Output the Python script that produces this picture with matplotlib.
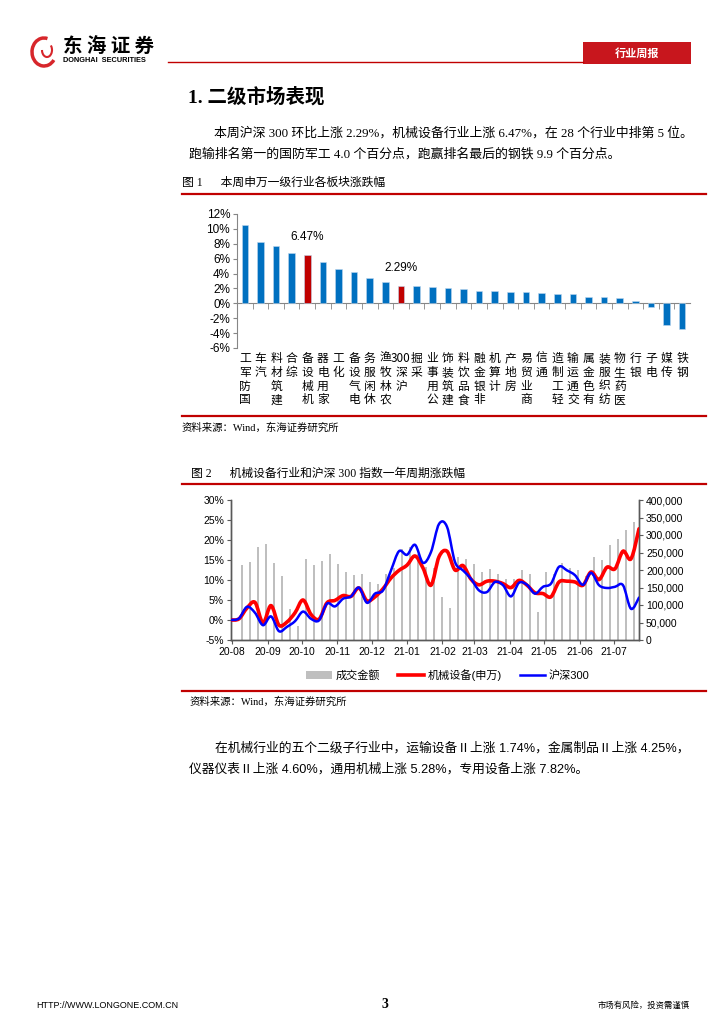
import numpy as np
import pandas as pd
import matplotlib
matplotlib.use("Agg")
import matplotlib.pyplot as plt
import matplotlib.dates as mdates
import matplotlib.transforms as mtrans
from matplotlib.path import Path
from matplotlib.patches import PathPatch, Rectangle, Arc
from matplotlib.lines import Line2D
from matplotlib.ticker import FuncFormatter, MultipleLocator

CJK = "Noto Sans CJK SC"
SANS = ["Liberation Sans", CJK]
SERIF = ["Liberation Serif", CJK]
plt.rcParams["font.family"] = SANS

# ---- figure 1: weekly change of SW level-1 industries (%) ----
industries = ["国防军工", "汽车", "建筑材料", "综合", "机械设备", "家用电器", "化工",
              "电气设备", "休闲服务", "农林牧渔", "沪深300", "采掘", "公用事业", "建筑装饰",
              "食品饮料", "非银金融", "计算机", "房地产", "商业贸易", "通信", "轻工制造",
              "交通运输", "有色金属", "纺织服装", "医药生物", "银行", "电子", "传媒", "钢铁"]
weekly_chg = [10.47, 8.18, 7.68, 6.71, 6.47, 5.56, 4.64, 4.18, 3.40, 2.90, 2.29, 2.27,
              2.16, 2.02, 1.88, 1.66, 1.61, 1.52, 1.52, 1.43, 1.29, 1.24, 0.87, 0.87,
              0.78, 0.28, -0.55, -2.85, -3.43]
highlight = {"机械设备": "6.47%", "沪深300": "2.29%"}

# ---- figure 2: one-year weekly cumulative change (%) and turnover ----
week_dates = pd.date_range("2020-07-31", periods=52, freq="7D")
machinery = [0.0, 0.3, 3.0, 4.4, -0.7, 3.6, -1.3, -0.5, 1.8, 5.0, 1.4, 0.2, 4.3, 4.9,
             6.1, 5.9, 8.0, 4.8, 5.8, 7.8, 10.5, 12.4, 13.7, 16.0, 13.0, 8.7, 15.8, 17.2,
             12.5, 13.6, 10.2, 8.8, 9.7, 9.7, 9.1, 8.1, 9.9, 8.7, 6.8, 6.6, 5.8, 9.5,
             9.7, 9.5, 8.7, 12.0, 10.1, 13.2, 12.8, 17.2, 15.3, 22.8]
hs300 = [0.0, 0.4, 3.3, 1.8, -1.3, 0.9, -2.8, -1.7, -0.3, 2.1, 0.3, -0.1, 4.1, 3.4,
         5.3, 5.9, 8.1, 4.3, 6.6, 7.4, 12.4, 17.2, 16.3, 18.8, 14.3, 17.0, 24.0, 23.3,
         14.5, 12.4, 10.3, 7.4, 7.0, 9.5, 8.7, 5.9, 9.3, 8.8, 6.6, 8.3, 9.1, 13.3,
         12.4, 11.2, 8.8, 11.8, 8.7, 8.0, 8.3, 8.7, 2.8, 5.6]
turnover = [215, 223, 265, 274, 221, 184, 88, 41, 232, 213, 225, 246, 217, 193, 187,
            188, 167, 160, 188, 205, 260, 266, 245, 208, 205, 122, 92, 238, 231, 217,
            193, 203, 190, 175, 175, 200, 190, 79, 193, 188, 221, 206, 200, 182, 236,
            228, 271, 288, 314, 336]  # thousands

W, H = 724, 1024


def fx(x):
    return x / W


def fy(y):
    return 1 - y / H


def box(left, top, right, bottom):
    return [fx(left), fy(bottom), (right - left) / W, (bottom - top) / H]


def smooth_path(x, y):
    # Catmull-Rom style bezier through the points (like Excel smoothed lines)
    x = np.asarray(x, float)
    y = np.asarray(y, float)
    n = len(x)
    verts = [(x[0], y[0])]
    codes = [Path.MOVETO]
    for i in range(n - 1):
        p0 = max(i - 1, 0)
        p3 = min(i + 2, n - 1)
        c1 = (x[i] + (x[i + 1] - x[p0]) / 6, y[i] + (y[i + 1] - y[p0]) / 6)
        c2 = (x[i + 1] - (x[p3] - x[i]) / 6, y[i + 1] - (y[p3] - y[i]) / 6)
        verts += [c1, c2, (x[i + 1], y[i + 1])]
        codes += [Path.CURVE4] * 3
    return Path(verts, codes)


fig = plt.figure(figsize=(W / 100, H / 100), dpi=100)
RED = "#C00000"

# ---- header ----
fig.add_artist(Arc((fx(44), fy(52)), 24 / W, 28 / H, theta1=70, theta2=330,
                   transform=fig.transFigure, color="#D7262B", lw=2.5))
fig.add_artist(Arc((fx(47), fy(50)), 10 / W, 14 / H, theta1=180, theta2=40,
                   transform=fig.transFigure, color="#D7262B", lw=1.5))
fig.text(fx(63), fy(47), "东 海 证 券", fontsize=14, fontweight="bold", family=CJK,
         va="center", ha="left")
fig.text(fx(63), fy(61), "DONGHAI  SECURITIES", fontsize=5.3, fontweight="bold",
         va="center", ha="left")
fig.add_artist(Line2D([fx(168), fx(583)], [fy(62), fy(62)], color=RED, lw=1.0))
fig.add_artist(Rectangle((fx(583), fy(64)), 108 / W, 22 / H, transform=fig.transFigure,
                         facecolor="#C8161D", edgecolor="none"))
fig.text(fx(637), fy(53), "行业周报", fontsize=8, fontweight="bold", color="white",
         family=CJK, ha="center", va="center")

# ---- section title and paragraph ----
fig.text(fx(188), fy(97), "1. 二级市场表现", fontsize=14, fontweight="bold",
         family=SERIF, va="center")
fig.text(fx(214), fy(133), "本周沪深 300 环比上涨 2.29%，机械设备行业上涨 6.47%，在 28 个行业中排第 5 位。",
         fontsize=9.3, family=SERIF, va="center")
fig.text(fx(189), fy(154), "跑输排名第一的国防军工 4.0 个百分点，跑赢排名最后的钢铁 9.9 个百分点。",
         fontsize=9.3, family=SERIF, va="center")

fig.text(fx(182), fy(183), "图 1      本周申万一级行业各板块涨跌幅", fontsize=8.5,
         family=SERIF, va="center")
for yy in (194, 416, 484, 691):
    fig.add_artist(Line2D([fx(182), fx(706)], [fy(yy), fy(yy)], color=RED, lw=1.6))

# ---- figure 1 ----
ax1 = fig.add_axes(box(237, 214, 690, 348))
xs = np.arange(len(industries))
colors = [RED if n in highlight else "#0070C0" for n in industries]
ax1.bar(xs, weekly_chg, width=0.42, color=colors, edgecolor="#BDD7EE", linewidth=0.4,
        zorder=3)
for i, n in enumerate(industries):
    if n in highlight:
        ax1.annotate(highlight[n], (i, weekly_chg[i]), xytext=(0, 9),
                     textcoords="offset points", ha="center", va="bottom", fontsize=8.5)
ax1.set_xlim(-0.5, len(industries) - 0.5)
ax1.set_ylim(-6, 12)
ax1.yaxis.set_major_locator(MultipleLocator(2))
ax1.yaxis.set_major_formatter(FuncFormatter(lambda v, p: f"{v:.0f}%"))
for s in ("top", "right"):
    ax1.spines[s].set_visible(False)
ax1.spines["left"].set_color("#868686")
ax1.spines["bottom"].set_color("#868686")
ax1.spines["bottom"].set_position(("data", 0))
ax1.set_xticks([])
ax1.set_xticks(xs[:-1] + 0.5, minor=True)
ax1.tick_params(axis="x", which="minor", length=4, direction="out", color="#868686")
ax1.tick_params(axis="y", length=3, color="#868686", labelsize=8.5, pad=2)
lab_tf = mtrans.blended_transform_factory(ax1.transData, ax1.transAxes)
for i, n in enumerate(industries):
    parts = ["沪", "深", "300"] if n == "沪深300" else list(n)
    ax1.text(i, -0.03, "\n".join(reversed(parts)), transform=lab_tf, ha="center",
             va="top", fontsize=8.5, family=CJK, linespacing=1.08)

fig.text(fx(182), fy(428), "资料来源：Wind，东海证券研究所", fontsize=7.5, family=SERIF,
         va="center")

# ---- figure 2 ----
fig.text(fx(191), fy(474), "图 2      机械设备行业和沪深 300 指数一年周期涨跌幅", fontsize=8.5,
         family=SERIF, va="center")

ax2 = fig.add_axes(box(231, 500, 639, 640))
ax2r = ax2.twinx()
xnum = mdates.date2num(week_dates)
ax2r.bar(xnum[1:51] + 2.5, np.array(turnover) * 1000, width=2.2, color="#BFBFBF",
         zorder=1)
ax2.add_patch(PathPatch(smooth_path(xnum, machinery), fill=False, edgecolor="#FF0000",
                        lw=2.6, capstyle="round", joinstyle="round", zorder=3))
ax2.add_patch(PathPatch(smooth_path(xnum, hs300), fill=False, edgecolor="#0000FF",
                        lw=1.8, capstyle="round", joinstyle="round", zorder=4))
ax2.set_zorder(ax2r.get_zorder() + 1)
ax2.patch.set_visible(False)

ax2.set_xlim(xnum[0], xnum[-1])
ax2.set_ylim(-5, 30)
ax2r.set_ylim(0, 400000)
ax2.yaxis.set_major_locator(MultipleLocator(5))
ax2.yaxis.set_major_formatter(FuncFormatter(lambda v, p: f"{v:.0f}%"))
ax2r.yaxis.set_major_locator(MultipleLocator(50000))
ax2r.yaxis.set_major_formatter(FuncFormatter(lambda v, p: f"{v:,.0f}"))
ax2.xaxis.set_major_locator(mdates.MonthLocator())
ax2.xaxis.set_major_formatter(mdates.DateFormatter("%y-%m"))
for a in (ax2, ax2r):
    a.spines["top"].set_visible(False)
    for s in ("left", "right", "bottom"):
        a.spines[s].set_color("#595959")
        a.spines[s].set_linewidth(1.0)
ax2.tick_params(axis="both", length=3, color="#595959", labelsize=7.5, pad=2)
ax2r.tick_params(axis="y", length=3, color="#595959", labelsize=7.5, pad=2)

handles = [Rectangle((0, 0), 1, 1, facecolor="#BFBFBF", edgecolor="none"),
           Line2D([], [], color="#FF0000", lw=2.6),
           Line2D([], [], color="#0000FF", lw=1.8)]
fig.legend(handles, ["成交金额", "机械设备(申万)", "沪深300"], loc="center",
           bbox_to_anchor=(fx(448), fy(675)), ncol=3, frameon=False,
           handlelength=2.3, handleheight=0.8, columnspacing=1.6, handletextpad=0.35,
           prop={"family": SANS, "size": 8})

fig.text(fx(190), fy(702), "资料来源：Wind，东海证券研究所", fontsize=7.5, family=SERIF,
         va="center")

# ---- closing paragraph ----
fig.text(fx(215), fy(748), "在机械行业的五个二级子行业中，运输设备Ⅱ上涨 1.74%，金属制品Ⅱ上涨 4.25%，",
         fontsize=9.2, family=SANS, va="center")
fig.text(fx(189), fy(769), "仪器仪表Ⅱ上涨 4.60%，通用机械上涨 5.28%，专用设备上涨 7.82%。",
         fontsize=9.2, family=SANS, va="center")

# ---- footer ----
fig.text(fx(36), fy(1005), "HTTP://WWW.LONGONE.COM.CN", fontsize=6.5, va="center")
fig.text(fx(385), fy(1004), "3", fontsize=10, fontweight="bold", family=SERIF,
         ha="center", va="center")
fig.text(fx(690), fy(1005), "市场有风险，投资需谨慎", fontsize=6, family=CJK, ha="right",
         va="center")

fig.savefig("out.png", dpi=100)
